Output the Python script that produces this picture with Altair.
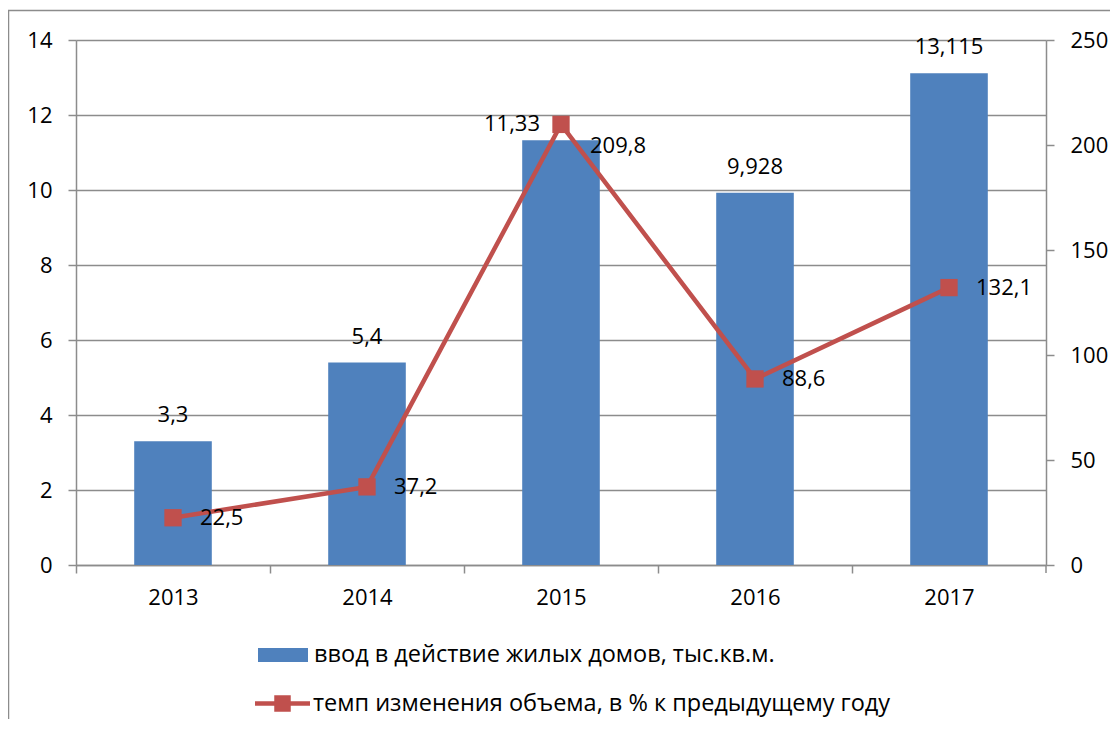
import altair as alt
import pandas as pd

years = ["2013", "2014", "2015", "2016", "2017"]
volume = [3.3, 5.4, 11.33, 9.928, 13.115]
volume_labels = ["3,3", "5,4", "11,33", "9,928", "13,115"]
rate = [22.5, 37.2, 209.8, 88.6, 132.1]
rate_labels = ["22,5", "37,2", "209,8", "88,6", "132,1"]
bar_name = "ввод в действие жилых домов, тыс.кв.м."
line_name = "темп изменения объема, в % к предыдущему году"
left_ticks = [0, 2, 4, 6, 8, 10, 12, 14]
right_ticks = [0, 50, 100, 150, 200, 250]

FONT = "Open Sans"
FS = 22
LFS = 23.5
BLUE = "#4F81BD"
RED = "#C0504D"
GRAY = "#8C8C8C"

df = pd.DataFrame({
    "year": years,
    "volume": volume,
    "vlabel": volume_labels,
    "rate": rate,
    "rlabel": rate_labels,
    "bar_series": [bar_name] * len(years),
    "line_series": [line_name] * len(years),
})

W, H = 970, 525
step = W / (5 - 0.6 + 0.6)

x_enc = alt.X(
    "year:N",
    sort=years,
    scale=alt.Scale(paddingInner=0.6, paddingOuter=0.3),
    axis=alt.Axis(
        title=None, labelAngle=0, bandPosition=0, tickOffset=-0.3 * step,
        labelOffset=0.3 * step, tickSize=8, labelPadding=14,
        domainColor=GRAY, tickColor=GRAY, domainWidth=1.5, tickWidth=1.5,
    ),
)

y_left = alt.Y(
    "volume:Q",
    scale=alt.Scale(domain=[0, 14], nice=False),
    axis=alt.Axis(
        title=None, values=left_ticks, grid=True, gridColor=GRAY, gridWidth=1.4,
        domainColor=GRAY, tickColor=GRAY, domainWidth=1.5, tickWidth=1.5,
        tickSize=8, labelPadding=16,
    ),
)

y_right = alt.Y(
    "rate:Q",
    scale=alt.Scale(domain=[0, 250], nice=False),
    axis=alt.Axis(
        title=None, values=right_ticks, grid=False, orient="right",
        domainColor=GRAY, tickColor=GRAY, domainWidth=1.5, tickWidth=1.5,
        tickSize=8, labelPadding=16,
    ),
)

base = alt.Chart(df)

border = alt.Chart(pd.DataFrame({"k": [0]})).mark_rect(
    fillOpacity=0, stroke=GRAY, strokeWidth=1.5
).encode(
    x=alt.value(-67.5), x2=alt.value(1045), y=alt.value(-29.5), y2=alt.value(720)
)

bars = base.mark_bar(size=0.4 * step).encode(
    x=x_enc,
    y=y_left,
    color=alt.Color(
        "bar_series:N",
        scale=alt.Scale(domain=[bar_name], range=[BLUE]),
        legend=alt.Legend(
            title=None, orient="none", legendX=182, legendY=590,
            symbolType="M-1,-0.28L1,-0.28L1,0.28L-1,0.28Z", symbolSize=2500,
            symbolStrokeWidth=0, labelFontSize=LFS, labelFont=FONT, labelLimit=0,
            labelOffset=6, padding=0,
        ),
    ),
)

bar_text = base.mark_text(baseline="middle", dy=-26, fontSize=FS, font=FONT, color="black").encode(
    x=alt.X("year:N", sort=years), y=alt.Y("volume:Q"), text="vlabel:N"
).transform_filter("datum.year != '2015'")

bar_text_2015 = base.mark_text(align="right", baseline="middle", dx=-21, dy=-16, fontSize=FS, font=FONT, color="black").encode(
    x=alt.X("year:N", sort=years), y=alt.Y("volume:Q"), text="vlabel:N"
).transform_filter("datum.year == '2015'")

end_tick = alt.Chart(pd.DataFrame({"k": [0]})).mark_rule(color=GRAY, strokeWidth=1.5).encode(
    x=alt.value(W), y=alt.value(H), y2=alt.value(H + 8)
)

left = alt.layer(bars, bar_text, bar_text_2015)

line = base.mark_line(color=RED, strokeWidth=4.5).encode(
    x=alt.X("year:N", sort=years), y=y_right
)

points = base.mark_point(shape="square", filled=True, size=300, opacity=1).encode(
    x=alt.X("year:N", sort=years),
    y=alt.Y("rate:Q"),
    color=alt.Color(
        "line_series:N",
        scale=alt.Scale(domain=[line_name], range=[RED]),
        legend=alt.Legend(
            title=None, orient="none", legendX=179, legendY=636,
            symbolType="M-1,-0.085L1,-0.085L1,0.085L-1,0.085Z M-0.3,-0.3L0.3,-0.3L0.3,0.3L-0.3,0.3Z",
            symbolSize=3025, symbolStrokeWidth=0, labelFontSize=LFS, labelFont=FONT,
            labelLimit=0, labelOffset=3, padding=0,
        ),
    ),
)

line_text = base.mark_text(align="left", baseline="middle", dx=27, fontSize=FS, font=FONT, color="black").encode(
    x=alt.X("year:N", sort=years), y=alt.Y("rate:Q"), text="rlabel:N"
).transform_filter("datum.year != '2015'")

line_text_2015 = base.mark_text(align="left", baseline="middle", dx=29, dy=22, fontSize=FS, font=FONT, color="black").encode(
    x=alt.X("year:N", sort=years), y=alt.Y("rate:Q"), text="rlabel:N"
).transform_filter("datum.year == '2015'")

right = alt.layer(line, points, line_text, line_text_2015)

chart = alt.layer(left, right, end_tick, border).resolve_scale(
    y="independent", color="independent"
).properties(
    width=W, height=H,
    autosize=alt.AutoSizeParams(type="none"),
    padding={"left": 68, "top": 32, "right": 64, "bottom": 154},
    background="white",
).configure_view(stroke=None).configure_axis(
    labelFont=FONT, labelFontSize=FS, labelColor="black"
).configure_legend(
    labelColor="black"
)

chart.save("out.html", embed_options={"renderer": "svg", "actions": False})
